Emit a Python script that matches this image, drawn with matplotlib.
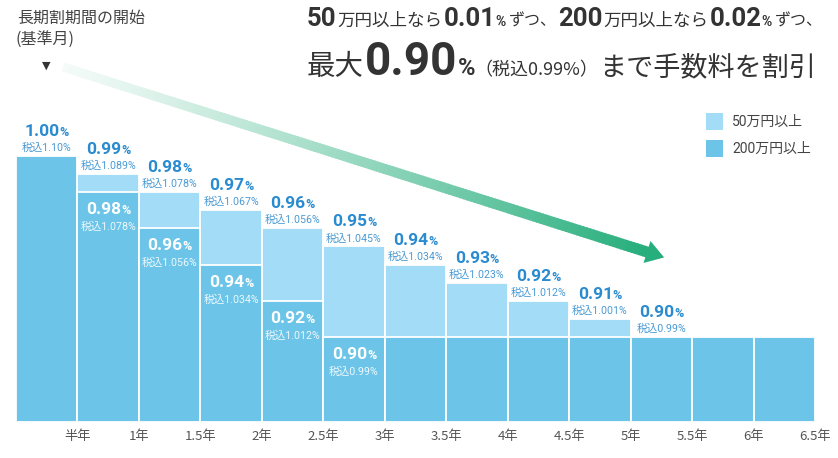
import matplotlib
matplotlib.use('Agg')
import matplotlib.pyplot as plt
import numpy as np
from matplotlib.transforms import offset_copy
from matplotlib.patches import Rectangle, Polygon

plt.rcParams['font.family'] = ['Roboto', 'Noto Sans CJK JP', 'DejaVu Sans']

# ---------------- data ----------------
periods = ['半年', '1年', '1.5年', '2年', '2.5年', '3年', '3.5年', '4年',
           '4.5年', '5年', '5.5年', '6年', '6.5年']
rate_50 = [1.00, 0.99, 0.98, 0.97, 0.96, 0.95, 0.94, 0.93, 0.92, 0.91, 0.90, 0.90, 0.90]
rate_200 = [1.00, 0.98, 0.96, 0.94, 0.92, 0.90, 0.90, 0.90, 0.90, 0.90, 0.90, 0.90, 0.90]
label_50 = ['1.00', '0.99', '0.98', '0.97', '0.96', '0.95', '0.94', '0.93', '0.92',
            '0.91', '0.90', None, None]
tax_50 = ['1.10', '1.089', '1.078', '1.067', '1.056', '1.045', '1.034', '1.023',
          '1.012', '1.001', '0.99', None, None]
label_200 = [None, '0.98', '0.96', '0.94', '0.92', '0.90', None, None, None, None, None, None, None]
tax_200 = [None, '1.078', '1.056', '1.034', '1.012', '0.99', None, None, None, None, None, None, None]
legend_labels = ['50万円以上', '200万円以上']

LIGHT = '#a3dcf7'
DARK = '#6cc5e8'
BLUE = '#2a8bd0'
BLUE_S = '#4a9ad4'
GRAY = '#333333'
GREEN = np.array([38, 174, 124]) / 255.0

W, H = 838, 458
fig = plt.figure(figsize=(W / 100, H / 100), dpi=100)
fig.patch.set_facecolor('white')

# decoration layer in pixel coordinates
deco = fig.add_axes([0, 0, 1, 1])
deco.set_xlim(0, W)
deco.set_ylim(H, 0)
deco.axis('off')

# main bar axes
base = 0.853
ax = fig.add_axes([16 / W, 36 / H, 799 / W, 422 / H])
ax.set_facecolor('none')
ax.set_xlim(-0.5, 12.5)
ax.set_ylim(base, base + 422 / 1810)
for s in ax.spines.values():
    s.set_visible(False)
ax.set_yticks([])
x = np.arange(len(periods))
ax.bar(x, np.array(rate_50) - base, bottom=base, width=1.0, color=LIGHT,
       edgecolor='white', linewidth=1.3)
ax.bar(x, np.array(rate_200) - base, bottom=base, width=1.0, color=DARK,
       edgecolor='white', linewidth=1.3)
ax.set_xticks(x + 0.5)
ax.set_xticklabels(periods, fontsize=9.5, color='#555555',
                   family=['Noto Sans CJK JP', 'DejaVu Sans'])
ax.tick_params(axis='x', length=0, pad=6)

renderer = fig.canvas.get_renderer()


def rich(axis, px, py, pieces, transform, ha='center', dy=0):
    objs = []
    total = 0
    for s, kw in pieces:
        kw = dict(kw)
        gap = kw.pop('gap', 0)
        t = axis.text(px, py, s, transform=transform, ha='left', va='baseline', **kw)
        w = t.get_window_extent(renderer=renderer).width
        objs.append((t, w, gap))
        total += w + gap
    cur = -total / 2 if ha == 'center' else 0
    for t, w, gap in objs:
        cur += gap
        t.set_transform(offset_copy(transform, fig=fig, x=cur, y=dy, units='dots'))
        cur += w


# bar labels
for i in x:
    if label_50[i] is not None:
        rich(ax, i, rate_50[i], [(label_50[i], dict(fontsize=12.5, fontweight='bold', color=BLUE)),
                                 ('%', dict(fontsize=9, fontweight='bold', color=BLUE, gap=0))],
             ax.transData, dy=20)
        rich(ax, i, rate_50[i], [('税込' + tax_50[i] + '%', dict(fontsize=7.7, color=BLUE_S))],
             ax.transData, dy=5)
    if label_200[i] is not None:
        rich(ax, i, rate_200[i], [(label_200[i], dict(fontsize=12.5, fontweight='bold', color='white')),
                                  ('%', dict(fontsize=9, fontweight='bold', color='white', gap=0))],
             ax.transData, dy=-22)
        rich(ax, i, rate_200[i], [('税込' + tax_200[i] + '%', dict(fontsize=7.7, color='#eef8fd'))],
             ax.transData, dy=-38)

# legend
for k, (lab, col) in enumerate(zip(legend_labels, [LIGHT, DARK])):
    deco.add_patch(Rectangle((706, 113 + 27 * k), 17, 17, facecolor=col, edgecolor='none'))
    deco.text(732, 121.5 + 27 * k, lab, fontsize=10, color='#444444', va='center', ha='left')

# top-left annotation
deco.text(17, 18, '長期割期間の開始', fontsize=11.5, color='#444444', va='center', ha='left',
          family=['Noto Sans CJK JP'])
deco.text(15, 39, '(基準月)', fontsize=11.5, color='#444444', va='center', ha='left',
          family=['Noto Sans CJK JP'])
deco.text(46, 66, '▼', fontsize=8, color='#333333', va='center', ha='center', family=['DejaVu Sans'])

# gradient arrow
p0 = np.array([63.0, 67.0])
p1 = np.array([647.0, 252.0])
u = (p1 - p0) / np.linalg.norm(p1 - p0)
nrm = np.array([-u[1], u[0]])
N = 160
for k in range(N):
    t0, t1 = k / N, (k + 1) / N
    a = p0 + (p1 - p0) * t0
    b = p0 + (p1 - p0) * (t1 + 0.002)
    w0 = 4.5 + 1.0 * t0
    w1 = 4.5 + 1.0 * t1
    tm = (t0 + t1) / 2
    f = 0.05 + 0.95 * tm ** 1.15
    col = (1 - f) * np.ones(3) + f * GREEN
    quad = [a + nrm * w0, b + nrm * w1, b - nrm * w1, a - nrm * w0]
    deco.add_patch(Polygon(quad, closed=True, facecolor=col, edgecolor='none', antialiased=True))
tip = p1 + u * 18
head = [p1 + nrm * 11.5, tip, p1 - nrm * 11.5]
deco.add_patch(Polygon(head, closed=True, facecolor=GREEN, edgecolor='none'))

# title lines
tr = deco.transData
big = dict(fontsize=18.5, fontweight='bold', color=GRAY)
mid = dict(fontsize=12.6, color=GRAY)
pct = dict(fontsize=10, fontweight='bold', color=GRAY)
small = dict(fontsize=11.5, color=GRAY)
rich(deco, 307, 26, [
    ('50', big), ('万円以上なら', dict(mid, gap=1)), ('0.01', dict(big, gap=1)), ('%', dict(pct, gap=0)),
    ('ずつ、', dict(small, gap=3)),
    ('200', dict(big, gap=1)), ('万円以上なら', dict(mid, gap=1)), ('0.02', dict(big, gap=1)),
    ('%', dict(pct, gap=0)), ('ずつ、', dict(small, gap=3)),
], tr, ha='left')
rich(deco, 307, 75, [
    ('最大', dict(fontsize=20.5, color=GRAY)),
    ('0.90', dict(fontsize=33, fontweight='bold', color=GRAY, gap=1)),
    ('%', dict(fontsize=17, fontweight='bold', color=GRAY, gap=0)),
    ('（税込0.99%）', dict(fontsize=13, color=GRAY, family=['Noto Sans CJK JP'], gap=0)),
    ('まで手数料を割引', dict(fontsize=19.5, color=GRAY, gap=0)),
], tr, ha='left')

fig.savefig('out.png', dpi=100, facecolor='white')
